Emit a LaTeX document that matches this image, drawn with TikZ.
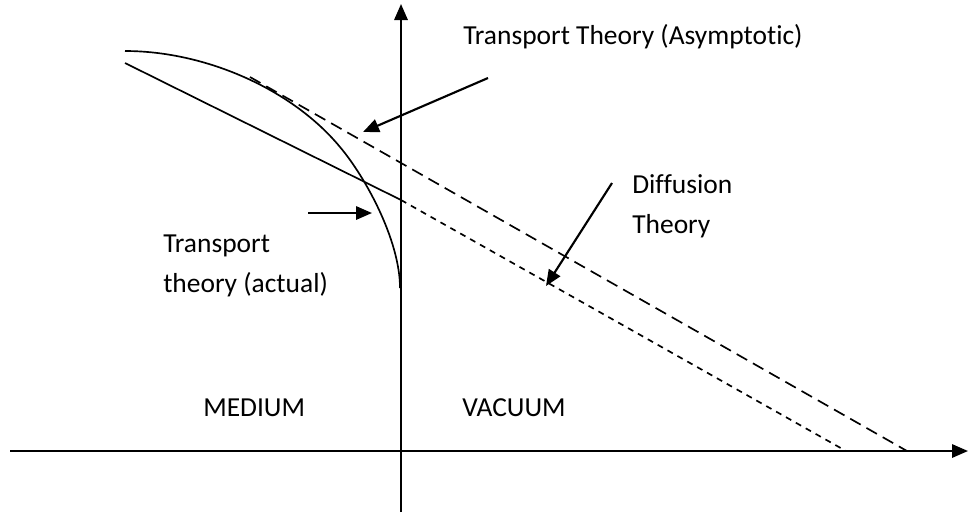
\documentclass[tikz,border=0pt]{standalone}
\usepackage{fontspec}
\setmainfont{Carlito}[Ligatures=NoCommon,RawFeature={-liga;-clig}]
\usetikzlibrary{arrows.meta}
\tikzset{
  axis/.style={line width=1.6pt,-{Triangle[length=12pt,width=10pt]}},
  curveline/.style={line width=1.25pt},
  longdash/.style={line width=1.25pt,dash pattern=on 9pt off 5pt},
  shortdash/.style={line width=1.25pt,dash pattern=on 4.5pt off 4pt},
  pointer/.style={line width=1.6pt,-{Triangle[length=12pt,width=10pt]}},
  lbl/.style={anchor=base west,inner sep=0pt,font=\fontsize{20.6}{24}\selectfont}
}
\begin{document}
\begin{tikzpicture}[x=0.75pt,y=-0.75pt]
\useasboundingbox (0,0) rectangle (969,512);
% axes
\coordinate (vb) at (401,512);
\coordinate (vt) at (401,4);
\coordinate (hl) at (10,451);
\coordinate (hr) at (968,451);
\draw[axis] (vb) -- (vt);
\draw[axis] (hl) -- (hr);
% actual transport curve
\coordinate (c0) at (125,51);
\coordinate (c1) at (340,147);
\coordinate (c2) at (400,288);
\draw[curveline] (c0) .. controls (205,51) and (292,89) .. (c1)
                      .. controls (365,176.5) and (400,240) .. (c2);
% solid extrapolation line
\coordinate (s0) at (125,63);
\coordinate (s1) at (401,200);
\draw[curveline] (s0) -- (s1);
% diffusion line (short dashes)
\coordinate (d1) at (846,451);
\draw[shortdash] (s1) -- (d1);
% asymptotic line (long dashes)
\coordinate (a0) at (250,77);
\coordinate (a1) at (907,451);
\draw[longdash] (a0) -- (a1);
% labels
\node[lbl] (tta) at (463,44) {Transport Theory (Asymptotic)};
\node[lbl] (dif1) at (632,193) {Diffusion};
\node[lbl] (dif2) at (632,233) {Theory};
\node[lbl] (tra1) at (163,252) {Transport};
\node[lbl] (tra2) at (163,292) {theory (actual)};
\node[lbl] (med) at (203,416) {MEDIUM};
\node[lbl] (vac) at (462,416) {VACUUM};
% pointers
\coordinate (p1s) at (488,78);
\coordinate (p1e) at (363,132);
\draw[pointer] (p1s) -- (p1e);
\coordinate (p2s) at (308,213);
\coordinate (p2e) at (372,213);
\draw[pointer] (p2s) -- (p2e);
\coordinate (p3s) at (612,183);
\coordinate (p3e) at (546,286);
\draw[pointer] (p3s) -- (p3e);
\end{tikzpicture}
\end{document}
